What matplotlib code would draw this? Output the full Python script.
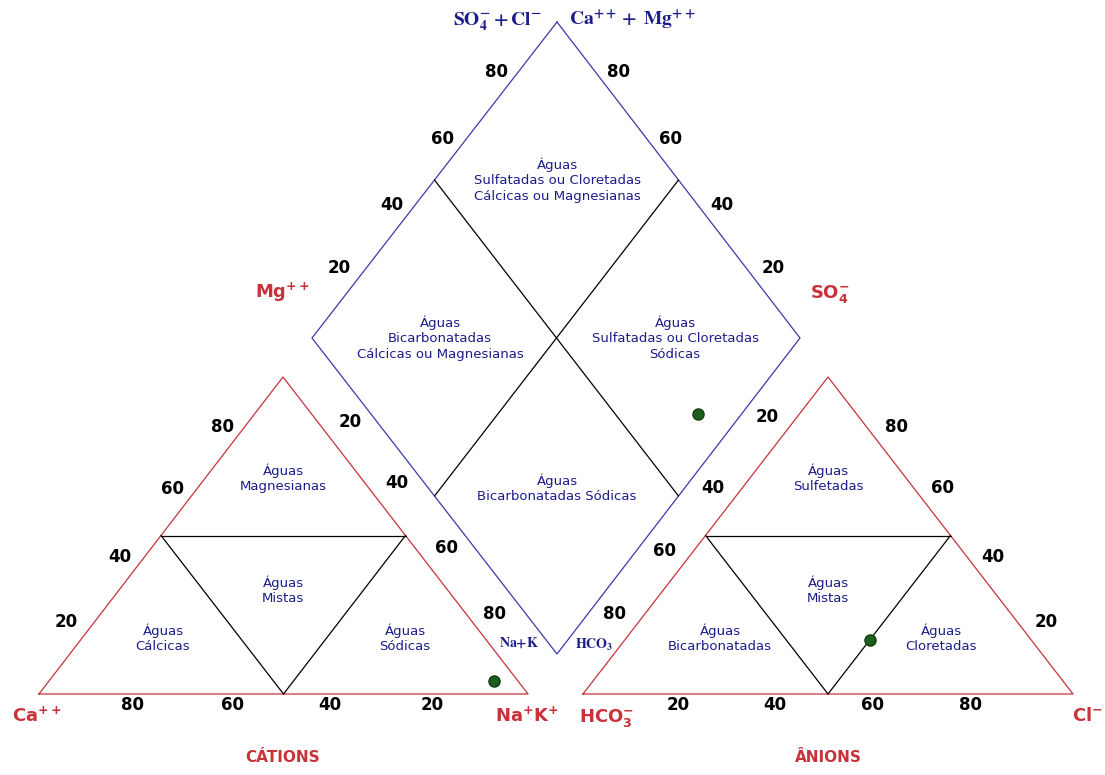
import numpy as np
import matplotlib.pyplot as plt

# sample composition (% meq/L)
cations = {'Ca': 5, 'Mg': 4, 'NaK': 91}
anions = {'HCO3': 33, 'SO4': 17, 'Cl': 50}

ticks_up = ['20', '40', '60', '80']
ticks_down = ['80', '60', '40', '20']

# diagram frame in pixel space
CA, NAK, MG = np.array([39, 694]), np.array([528, 694]), np.array([283, 377])
HCO, CL, SO = np.array([583, 694]), np.array([1073, 694]), np.array([828, 377])
D_TOP, D_LEFT = np.array([557, 22]), np.array([312, 338])
D_RIGHT, D_BOT = np.array([800, 338]), np.array([557, 654])

RED = '#c8323a'
BLUE = '#3a3aa8'
TXT = '#1c1c8a'


def line(ax, a, b, color, lw=0.9):
    ax.plot([a[0], b[0]], [a[1], b[1]], color=color, lw=lw, solid_capstyle='round')


def poly(ax, pts, color, lw=0.9):
    pts = np.array(list(pts) + [pts[0]])
    ax.plot(pts[:, 0], pts[:, 1], color=color, lw=lw)


def tern(p1, p2, p3, a, b, c):
    s = a + b + c
    return (p1 * a + p2 * b + p3 * c) / s


fig = plt.figure(figsize=(11.05, 7.75), dpi=100)
ax = fig.add_axes([0, 0, 1, 1])
ax.set_xlim(0, 1105)
ax.set_ylim(775, 0)
ax.axis('off')

# triangles
for a, b, c in [(CA, NAK, MG), (HCO, CL, SO)]:
    poly(ax, [a, b, c], RED)
    m1, m2, m3 = (a + c) / 2, (b + c) / 2, (a + b) / 2
    line(ax, m1, m2, 'black')
    line(ax, m1, m3, 'black')
    line(ax, m3, m2, 'black')

# diamond
poly(ax, [D_TOP, D_RIGHT, D_BOT, D_LEFT], BLUE)
line(ax, (D_TOP + D_LEFT) / 2, (D_BOT + D_RIGHT) / 2, 'black')
line(ax, (D_TOP + D_RIGHT) / 2, (D_BOT + D_LEFT) / 2, 'black')

# tick labels
tk = dict(fontsize=12, fontweight='bold', color='black', ha='center', va='center')
groups = [
    (ticks_up, [(66, 622), (120, 557), (172, 489), (223, 427)]),
    (ticks_up, [(350, 422), (397, 483), (446, 548), (495, 614)]),
    (ticks_down, [(133, 705), (233, 705), (330, 705), (432, 705)]),
    (ticks_down, [(614, 614), (665, 551), (713, 488), (767, 417)]),
    (ticks_down, [(897, 427), (943, 488), (993, 557), (1046, 622)]),
    (ticks_up, [(678, 705), (775, 705), (872, 705), (970, 705)]),
    (ticks_up, [(339, 268), (392, 205), (443, 139), (497, 72)]),
    (ticks_up, [(773, 268), (722, 205), (670, 139), (618, 72)]),
]
for labels, pos in groups:
    for lab, (x, y) in zip(labels, pos):
        ax.text(x, y, lab, **tk)

# region names
rg = dict(fontsize=9.5, color=TXT, ha='center', va='center', linespacing=1.25)
regions = [
    (283, 478, 'Águas\nMagnesianas'), (283, 590, 'Águas\nMistas'),
    (163, 638, 'Águas\nCálcicas'), (405, 638, 'Águas\nSódicas'),
    (828, 478, 'Águas\nSulfetadas'), (828, 590, 'Águas\nMistas'),
    (720, 638, 'Águas\nBicarbonatadas'), (941, 638, 'Águas\nCloretadas'),
    (557, 180, 'Águas\nSulfatadas ou Cloretadas\nCálcicas ou Magnesianas'),
    (440, 338, 'Águas\nBicarbonatadas\nCálcicas ou Magnesianas'),
    (675, 338, 'Águas\nSulfatadas ou Cloretadas\nSódicas'),
    (557, 488, 'Águas\nBicarbonatadas Sódicas'),
]
for x, y, s in regions:
    ax.text(x, y, s, **rg)

# corner labels
cl = dict(fontsize=13, color=RED, va='center', math_fontfamily='dejavusans')
ax.text(12, 716, r'$\mathbf{Ca^{++}}$', ha='left', **cl)
ax.text(527, 716, r'$\mathbf{Na^{+}K^{+}}$', ha='center', **cl)
ax.text(283, 292, r'$\mathbf{Mg^{++}}$', ha='center', **cl)
ax.text(607, 718, r'$\mathbf{HCO_3^{-}}$', ha='center', **cl)
ax.text(1072, 716, r'$\mathbf{Cl^{-}}$', ha='left', **cl)
ax.text(830, 294, r'$\mathbf{SO_4^{-}}$', ha='center', **cl)
ax.text(283, 758, 'CÁTIONS', fontsize=11, fontweight='bold', color=RED, ha='center', va='center')
ax.text(828, 758, 'ÂNIONS', fontsize=11, fontweight='bold', color=RED, ha='center', va='center')

# diamond labels
tl = dict(fontsize=14, color=TXT, ha='center', va='center', math_fontfamily='stix')
ax.text(497, 22, r'$\mathbf{SO_4^{-} + Cl^{-}}$', **tl)
ax.text(632, 20, r'$\mathbf{Ca^{++} +\ Mg^{++}}$', **tl)
sm = dict(fontsize=10, color=TXT, ha='center', va='center', math_fontfamily='stix')
ax.text(519, 643, r'$\mathbf{Na{+}K}$', **sm)
ax.text(594, 645, r'$\mathbf{HCO_3}$', **sm)

# sample points
p_cat = tern(CA, NAK, MG, cations['Ca'], cations['NaK'], cations['Mg'])
p_an = tern(HCO, CL, SO, anions['HCO3'], anions['Cl'], anions['SO4'])
a = (anions['SO4'] + anions['Cl']) / 100
b = (cations['Ca'] + cations['Mg']) / 100
p_dia = D_BOT + a * (D_RIGHT - D_BOT) + b * (D_LEFT - D_BOT)
pts = np.array([p_cat, p_an, p_dia])
ax.plot(pts[:, 0], pts[:, 1], 'o', color='#1e5e1e', markersize=8, markeredgecolor='#0f3f0f', zorder=5)

fig.savefig('out.png', dpi=100, facecolor='white')
